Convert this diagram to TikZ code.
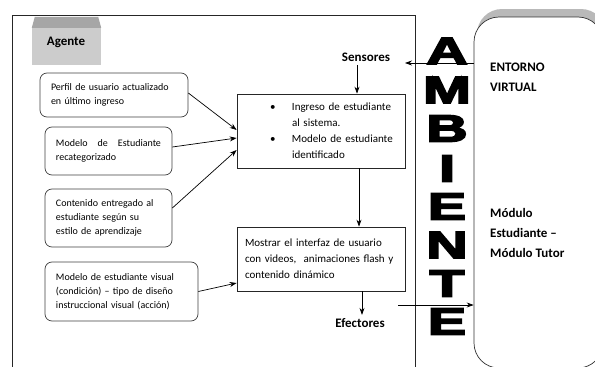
\documentclass[tikz,border=0pt]{standalone}
\usepackage{graphicx}
\usepackage{fontspec}
\setmainfont{Carlito}
\newfontfamily\ambfont[FakeBold=4]{Liberation Sans Bold}
\usetikzlibrary{shapes.geometric, arrows.meta, shadows}
\tikzstyle{inbox} = [rectangle, rounded corners=7pt, draw=black!75, line width=0.7pt, fill=white, align=left, inner xsep=11pt, font=\fontsize{10}{14}\selectfont]
\tikzstyle{rulebox} = [rectangle, draw=black!85, line width=0.7pt, fill=white, text width=152pt, align=left, inner xsep=8pt, font=\fontsize{11}{16}\selectfont]
\tikzstyle{envbox} = [rectangle, rounded corners=25pt, draw=black!80, line width=0.7pt, fill=white, minimum width=129pt, minimum height=351pt, drop shadow={shadow xshift=3pt, shadow yshift=8pt, fill=gray!55, opacity=1}]
\tikzstyle{port} = [font=\bfseries\fontsize{13}{16}\selectfont]
\tikzstyle{envtext} = [font=\bfseries\fontsize{13}{20}\selectfont, align=left, anchor=west, inner sep=0pt]
\tikzstyle{letter} = [inner sep=0pt]
\tikzstyle{arrow} = [line width=0.7pt, -{Stealth[length=7pt,width=5pt]}]
\newcommand{\ambletter}[1]{\scalebox{1.5}[1]{\ambfont\fontsize{38}{38}\selectfont #1}}

\begin{document}
\begin{tikzpicture}[x=1pt, y=-1pt]
\useasboundingbox (0,0) rectangle (595,367);

%Agent frame
\draw[line width=0.8pt, black!85] (12,367) -- (12,15) -- (415,15) -- (415,367);
\node (tab) [rectangle, fill=gray!40, minimum width=69pt, minimum height=37pt, inner sep=0pt] at (66.5,46.5) {};
\fill[gray!70] ([xshift=3pt, yshift=11pt]tab.north west) -- ([xshift=-3pt, yshift=11pt]tab.north east) -- (tab.north east) -- (tab.north west) -- cycle;
\node (agente) [port] at (66,42) {Agente};

%Environment
\node (env) [envbox] at (538.5,192.5) {};
\node (entorno) [envtext] at (490,77) {ENTORNO\\VIRTUAL};
\node (modulo) [envtext] at (490,233) {Módulo\\Estudiante --\\Módulo Tutor};

%Inputs
\node (perfil) [inbox, text width=126pt, minimum height=44pt] at (114,95) {Perfil de usuario actualizado\\en último ingreso};
\node (recat) [inbox, text width=105pt, minimum height=48pt] at (108.5,151) {Modelo\hfill de\hfill Estudiante\\recategorizado};
\node (contenido) [inbox, text width=105pt, minimum height=58pt] at (108.5,218) {Contenido entregado al\\estudiante según su\\estilo de aprendizaje};
\node (visual) [inbox, text width=131pt, minimum height=59pt] at (121.5,291.5) {Modelo de estudiante visual\\(condición) -- tipo de diseño\\instruccional visual (acción)};

%Rules
\node (ingreso) [rulebox, minimum height=74pt] at (321,131) {\hspace*{25pt}\makebox[22pt][l]{\textbullet}Ingreso de estudiante\\\hspace*{47pt}al sistema.\\\hspace*{25pt}\makebox[22pt][l]{\textbullet}Modelo de estudiante\\\hspace*{47pt}identificado};
\node (mostrar) [rulebox, minimum height=64pt] at (321,259) {Mostrar el interfaz de usuario\\con videos,\ \ animaciones flash y\\contenido dinámico};

%Sensors and effectors
\node (sensores) [port] at (366,57) {Sensores};
\node (efectores) [port] at (360,323) {Efectores};
\coordinate (sensin) at (405,63);
\coordinate (efout) at (398,305);

%arrows
\draw [arrow] ([yshift=2pt]perfil.east) -- ([yshift=1pt]ingreso.west);
\draw [arrow] ([yshift=4pt]recat.east) -- ([yshift=-7pt]ingreso.west);
\draw [arrow] ([yshift=10pt]contenido.east) -- ([yshift=-19pt]ingreso.west);
\draw [arrow] (visual.east) -- ([yshift=-24pt]mostrar.west);
\draw [arrow] (env.west |- sensin) -- (sensin);
\draw [arrow] ([xshift=-9pt]sensores.south) -- ([xshift=-9pt]sensores.south |- ingreso.north);
\draw [arrow] ([xshift=38pt]ingreso.south) -- ([xshift=38pt]mostrar.north);
\draw [arrow] ([xshift=41pt]mostrar.south) -- ([xshift=41pt]mostrar.south |- efectores.north);
\draw [arrow] (efout) -- (env.west |- efout);

%Ambiente
\node (la1) [letter] at (447,51) {\ambletter{A}};
\node (lm) [letter] at (447,90) {\ambletter{M}};
\node (lb) [letter] at (447,128.5) {\ambletter{B}};
\node (li) [letter] at (447,168.5) {\ambletter{I}};
\node (le1) [letter] at (447,206.5) {\ambletter{E}};
\node (ln) [letter] at (447,245) {\ambletter{N}};
\node (lt) [letter] at (447,283.5) {\ambletter{T}};
\node (le2) [letter] at (447,321.5) {\ambletter{E}};

\end{tikzpicture}
\end{document}
